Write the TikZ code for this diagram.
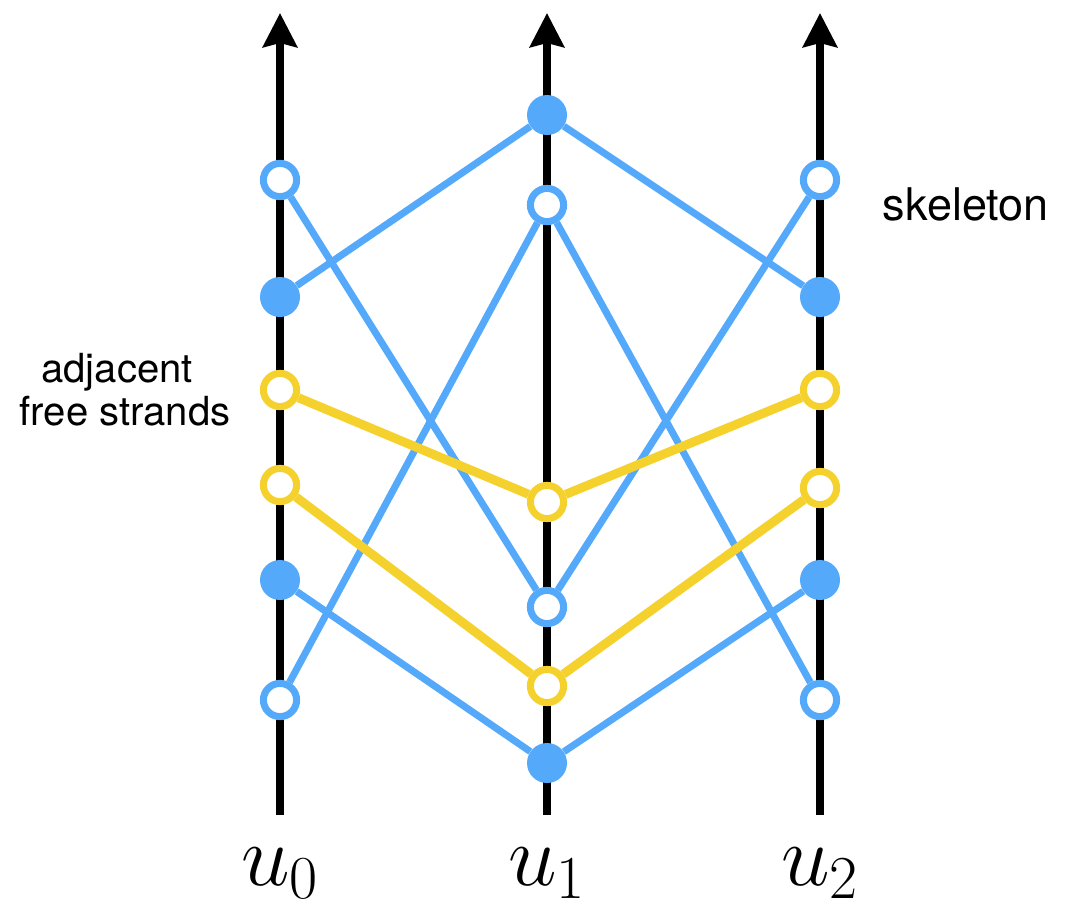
\RequirePackage{fix-cm}
\documentclass[tikz,border=0pt]{standalone}
\usepackage{fontspec}
\newfontfamily\labelfont{TeX Gyre Heros}
\usetikzlibrary{arrows.meta}
\definecolor{strandBlue}{RGB}{84,169,250}
\definecolor{strandGold}{RGB}{245,209,46}

\begin{document}
\begin{tikzpicture}[x=0.025cm, y=-0.025cm,
  axis/.style={line width=5.7pt, -{Stealth[length=0.85cm, width=0.85cm, inset=0.1cm]}},
  openpt/.style={circle, draw=#1, fill=white, line width=5pt, inner sep=0pt, minimum size=0.83cm},
  fullpt/.style={circle, fill=strandBlue, inner sep=0pt, minimum size=1cm},
  skel/.style={strandBlue, line width=5pt},
  freestrand/.style={strandGold, line width=6.4pt},
  vlabel/.style={font=\fontsize{62}{66}\selectfont, anchor=base, inner sep=0pt},
  txt/.style={font=\labelfont\fontsize{28.5}{31}\selectfont}]
  \useasboundingbox (0,0) rectangle (1066,910);

  % vertical axes and their labels
  \foreach \x/\n in {280/0, 547/1, 820/2} {
    \coordinate (bot\n) at (\x,815);
    \coordinate (top\n) at (\x,13);
    \draw[axis] (bot\n) -- (top\n);
    \node[vlabel] (lab\n) at (\x,885) {$u_\n$};
  }

  % points on u0
  \node[openpt=strandBlue] (a1) at (280,180) {};
  \node[fullpt] (a2) at (280,297) {};
  \node[openpt=strandGold] (a3) at (280,390) {};
  \node[openpt=strandGold] (a4) at (280,485) {};
  \node[fullpt] (a5) at (280,580) {};
  \node[openpt=strandBlue] (a6) at (280,700) {};

  % points on u1
  \node[fullpt] (b1) at (547,115) {};
  \node[openpt=strandBlue] (b2) at (547,205) {};
  \node[openpt=strandGold] (b3) at (547,502) {};
  \node[openpt=strandBlue] (b4) at (547,607) {};
  \node[openpt=strandGold] (b5) at (547,686) {};
  \node[fullpt] (b6) at (547,763) {};

  % points on u2
  \node[openpt=strandBlue] (c1) at (820,180) {};
  \node[fullpt] (c2) at (820,297) {};
  \node[openpt=strandGold] (c3) at (820,390) {};
  \node[openpt=strandGold] (c4) at (820,488) {};
  \node[fullpt] (c5) at (820,580) {};
  \node[openpt=strandBlue] (c6) at (820,700) {};

  % skeleton strands
  \draw[skel] (a2) -- (b1) -- (c2);
  \draw[skel] (a1) -- (b4) -- (c1);
  \draw[skel] (a6) -- (b2) -- (c6);
  \draw[skel] (a5) -- (b6) -- (c5);

  % free strands
  \draw[freestrand] (a3) -- (b3) -- (c3);
  \draw[freestrand] (a4) -- (b5) -- (c4);

  % labels
  \node[txt, font=\labelfont\fontsize{32}{36}\selectfont, anchor=base west] (skeleton) at (878,220) {skeleton};
  \node[txt, anchor=base] (adj) at (117,382) {adjacent};
  \node[txt, anchor=base] (free) at (125,425) {free strands};
\end{tikzpicture}
\end{document}
